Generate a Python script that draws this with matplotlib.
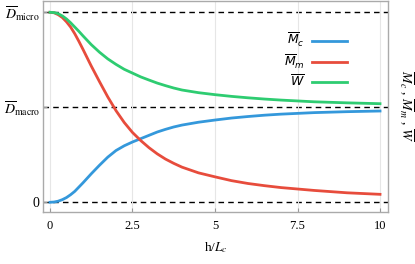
import matplotlib
matplotlib.use("Agg")
import matplotlib.pyplot as plt
from matplotlib.font_manager import FontProperties

plt.rcParams["font.family"] = "Liberation Serif"
plt.rcParams["mathtext.fontset"] = "stix"

# h / L_c
x = [0, 0.125, 0.25, 0.375, 0.5, 0.625, 0.75, 0.875, 1.0, 1.25, 1.5, 1.75,
     2.0, 2.25, 2.5, 2.75, 3.0, 3.25, 3.5, 3.75, 4.0, 4.5, 5.0, 5.5, 6.0,
     6.5, 7.0, 8.0, 9.0, 10.0]
m_c = [0.0, 0.003, 0.012, 0.028, 0.05, 0.08, 0.115, 0.16, 0.205, 0.30, 0.39,
       0.475, 0.545, 0.595, 0.635, 0.67, 0.705, 0.74, 0.768, 0.793, 0.813,
       0.843, 0.866, 0.887, 0.903, 0.917, 0.928, 0.944, 0.954, 0.961]
m_m = [2.0, 1.995, 1.975, 1.945, 1.90, 1.845, 1.775, 1.695, 1.61, 1.435, 1.27,
       1.11, 0.965, 0.84, 0.735, 0.65, 0.575, 0.51, 0.455, 0.41, 0.37, 0.31,
       0.268, 0.228, 0.198, 0.175, 0.155, 0.125, 0.10, 0.084]
w = [2.0, 1.997, 1.985, 1.962, 1.93, 1.89, 1.845, 1.80, 1.752, 1.66, 1.58,
     1.51, 1.452, 1.40, 1.36, 1.32, 1.287, 1.255, 1.228, 1.203, 1.182, 1.154,
     1.133, 1.115, 1.10, 1.087, 1.076, 1.058, 1.047, 1.038]

levels = [0, 1, 2]
level_labels = ["0", r"$\overline{D}_{\mathrm{macro}}$", r"$\overline{D}_{\mathrm{micro}}$"]
xticks = [0, 2.5, 5, 7.5, 10]
xtick_labels = ["0", "2.5", "5", "7.5", "10"]

fig = plt.figure(figsize=(4.15, 2.64), dpi=100)
ax = fig.add_axes([0.1043, 0.197, 0.8297, 0.801])

for lv in levels:
    ax.axhline(lv, color="black", lw=1.0, ls=(0, (4, 3)), zorder=1)

ax.plot(x, m_c, color="#3498db", lw=2, label=r"$\overline{M}_c$", zorder=3)
ax.plot(x, m_m, color="#e74c3c", lw=2, label=r"$\overline{M}_m$", zorder=3)
ax.plot(x, w, color="#2ecc71", lw=2, label=r"$\overline{W}$", zorder=3)

ax.set_xlim(-0.203, 10.23)
ax.set_ylim(-0.102, 2.124)
ax.set_xticks(xticks)
ax.set_xticklabels(xtick_labels, fontsize=9)
ax.set_yticks(levels)
ax.set_yticklabels(level_labels, fontsize=10)
ax.grid(axis="x", color="#e6e6e6", lw=0.8, zorder=0)
ax.tick_params(direction="in", color="#999999", length=3)
ax.tick_params(axis="x", pad=6)
ax.tick_params(axis="y", pad=2.5)

for sp in ax.spines.values():
    sp.set_color("#aaaaaa")
    sp.set_linewidth(1.0)

ax.set_xlabel(r"h/$L_c$", fontsize=9.5, labelpad=6)

leg_font = FontProperties(family="DejaVu Sans", size=9, math_fontfamily="dejavusans")
ax.legend(loc="upper right", bbox_to_anchor=(0.915, 0.91), frameon=False,
          markerfirst=False, prop=leg_font, handlelength=2.8,
          labelspacing=0.28, handletextpad=0.6)

fig.text(0.978, 0.6, r"$\overline{M}_c$ , $\overline{M}_m$ , $\overline{W}$",
         rotation=270, ha="center", va="center", fontsize=10)

fig.savefig("out.png", dpi=100)
